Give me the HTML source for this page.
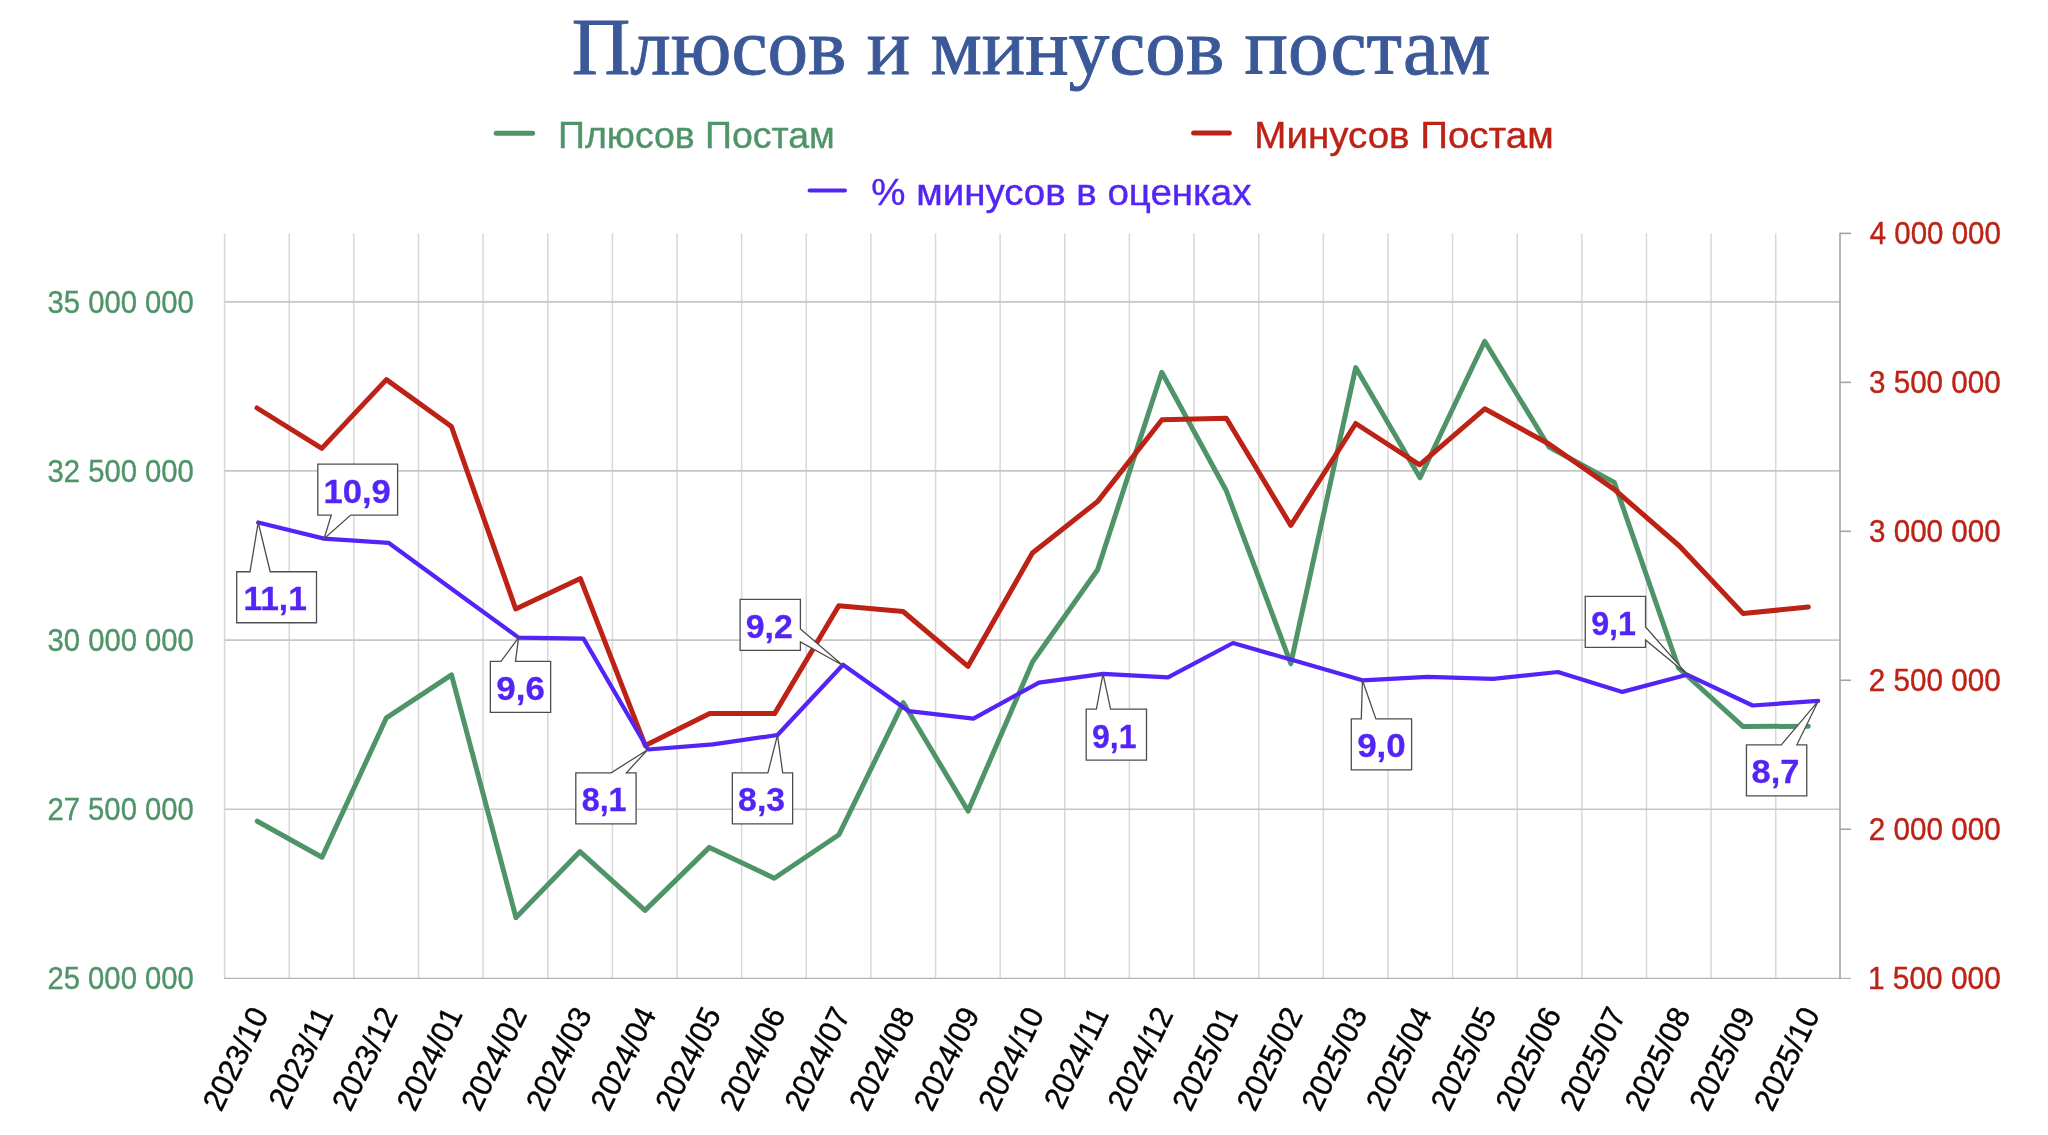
<!DOCTYPE html>
<html lang="ru"><head><meta charset="utf-8"><title>Плюсов и минусов постам</title>
<style>html,body{margin:0;padding:0;background:#fff;overflow:hidden}svg{display:block}</style></head>
<body>
<svg width="2048" height="1135" viewBox="0 0 2048 1135">
<rect width="2048" height="1135" fill="#fff"/>
<g stroke="#d8d8d8" stroke-width="1.5" fill="none">
<line x1="224.6" y1="233.4" x2="224.6" y2="978.4"/>
<line x1="289.23" y1="233.4" x2="289.23" y2="978.4"/>
<line x1="353.86" y1="233.4" x2="353.86" y2="978.4"/>
<line x1="418.49" y1="233.4" x2="418.49" y2="978.4"/>
<line x1="483.12" y1="233.4" x2="483.12" y2="978.4"/>
<line x1="547.75" y1="233.4" x2="547.75" y2="978.4"/>
<line x1="612.38" y1="233.4" x2="612.38" y2="978.4"/>
<line x1="677.01" y1="233.4" x2="677.01" y2="978.4"/>
<line x1="741.64" y1="233.4" x2="741.64" y2="978.4"/>
<line x1="806.27" y1="233.4" x2="806.27" y2="978.4"/>
<line x1="870.9" y1="233.4" x2="870.9" y2="978.4"/>
<line x1="935.53" y1="233.4" x2="935.53" y2="978.4"/>
<line x1="1000.16" y1="233.4" x2="1000.16" y2="978.4"/>
<line x1="1064.79" y1="233.4" x2="1064.79" y2="978.4"/>
<line x1="1129.42" y1="233.4" x2="1129.42" y2="978.4"/>
<line x1="1194.05" y1="233.4" x2="1194.05" y2="978.4"/>
<line x1="1258.68" y1="233.4" x2="1258.68" y2="978.4"/>
<line x1="1323.31" y1="233.4" x2="1323.31" y2="978.4"/>
<line x1="1387.94" y1="233.4" x2="1387.94" y2="978.4"/>
<line x1="1452.57" y1="233.4" x2="1452.57" y2="978.4"/>
<line x1="1517.2" y1="233.4" x2="1517.2" y2="978.4"/>
<line x1="1581.83" y1="233.4" x2="1581.83" y2="978.4"/>
<line x1="1646.46" y1="233.4" x2="1646.46" y2="978.4"/>
<line x1="1711.09" y1="233.4" x2="1711.09" y2="978.4"/>
<line x1="1775.72" y1="233.4" x2="1775.72" y2="978.4"/>
</g>
<g stroke="#c6c6c6" stroke-width="1.7" fill="none">
<line x1="224.6" y1="301.8" x2="1840" y2="301.8"/>
<line x1="224.6" y1="470.95" x2="1840" y2="470.95"/>
<line x1="224.6" y1="640.1" x2="1840" y2="640.1"/>
<line x1="224.6" y1="809.25" x2="1840" y2="809.25"/>
</g>
<line x1="224" y1="978.4" x2="1851" y2="978.4" stroke="#b4b4b4" stroke-width="1.4"/>
<g stroke="#a4a4a4" stroke-width="1.6" fill="none">
<line x1="1840" y1="232.7" x2="1840" y2="979.1"/>
<line x1="1840" y1="233.4" x2="1851" y2="233.4"/>
<line x1="1840" y1="382.36" x2="1851" y2="382.36"/>
<line x1="1840" y1="531.32" x2="1851" y2="531.32"/>
<line x1="1840" y1="680.28" x2="1851" y2="680.28"/>
<line x1="1840" y1="829.24" x2="1851" y2="829.24"/>
</g>
<polyline points="257.3,821.2 322,857.2 386.4,717.8 451.5,674.8 516,917.6 580,851.6 645,910.4 709.4,847.4 774.3,878.2 838.8,834.8 903.3,702.7 968.1,811 1032.6,661.8 1097.6,569.8 1161.8,372.3 1226.2,490.5 1290.8,663.6 1355.7,367.6 1420,477.8 1484.7,341.3 1549,447 1614.3,482.4 1678.6,668 1743.1,726.6 1808.3,726.2" fill="none" stroke="#4F9468" stroke-width="5" stroke-linejoin="round" stroke-linecap="round"/>
<polyline points="257,408 321.8,448.4 386.4,379.6 451.4,426.5 515.7,609 580.4,578.6 645.3,745.6 709.7,713.6 774.6,713.6 838.8,605.7 903.1,611.5 968,666.3 1032.4,553 1097.7,501.4 1162,419.7 1226.3,418.3 1290.8,525.4 1355.7,423.5 1419.6,464.8 1484.7,408.8 1549,444 1614.6,489.6 1679.4,546 1743.1,613.6 1808.3,607" fill="none" stroke="#BD2216" stroke-width="5" stroke-linejoin="round" stroke-linecap="round"/>
<polyline points="258.2,522.5 324,538.6 388.5,542.8 453.5,590.2 518.6,637.6 583.5,638.6 648.1,749.5 713,744.4 777.5,735 843,664.8 908.8,711.2 973.4,718.6 1039,682.6 1103,673.9 1168,677.3 1233,643 1297.7,661.6 1362.4,680.3 1427.8,676.8 1493,678.9 1557.9,672 1622.4,691.9 1687,674.7 1752.6,705.5 1818.2,700.8" fill="none" stroke="#5424F6" stroke-width="4.2" stroke-linejoin="round" stroke-linecap="round"/>
<line x1="496.2" y1="133.2" x2="532.6" y2="133.2" stroke="#4F9468" stroke-width="5" stroke-linecap="round"/>
<line x1="1193.6" y1="133.1" x2="1229.3" y2="133.1" stroke="#BD2216" stroke-width="5" stroke-linecap="round"/>
<line x1="809.7" y1="190.5" x2="844.9" y2="190.5" stroke="#5424F6" stroke-width="4.2" stroke-linecap="round"/>
<g fill="#fff" stroke="#4d4d4d" stroke-width="1.3" stroke-linejoin="miter">
<path d="M236.7,571.75 L250,571.75 L258.2,522.5 L270.2,571.75 L316.5,571.75 L316.5,622.75 L236.7,622.75 Z"/>
<path d="M317.8,464.1 L397.6,464.1 L397.6,515.1 L350.7,515.1 L324,538.7 L331.3,515.1 L317.8,515.1 Z"/>
<path d="M490.35,661.4 L501,661.4 L518.6,637.6 L515.5,661.4 L550.65,661.4 L550.65,712.4 L490.35,712.4 Z"/>
<path d="M575.8,772.8 L611.2,772.8 L647.6,749.7 L626.4,772.8 L636.1,772.8 L636.1,823.8 L575.8,823.8 Z"/>
<path d="M732.35,772.85 L767.9,772.85 L777.5,735 L782.7,772.85 L792.65,772.85 L792.65,823.85 L732.35,823.85 Z"/>
<path d="M740.1,599.4 L800.4,599.4 L800.4,628.9 L842.6,665.2 L800.4,641.9 L800.4,650.4 L740.1,650.4 Z"/>
<path d="M1086.2,709.1 L1096.4,709.1 L1103,673.9 L1110.6,709.1 L1146.5,709.1 L1146.5,760.1 L1086.2,760.1 Z"/>
<path d="M1351.3,718.9 L1361.3,718.9 L1362.4,680.3 L1375.9,718.9 L1411.6,718.9 L1411.6,769.9 L1351.3,769.9 Z"/>
<path d="M1585.25,596.45 L1645.55,596.45 L1645.55,627 L1687.3,674.6 L1645.55,640 L1645.55,647.45 L1585.25,647.45 Z"/>
<path d="M1746.45,744.8 L1781.3,744.8 L1818.2,701.2 L1796.9,744.8 L1806.75,744.8 L1806.75,795.8 L1746.45,795.8 Z"/>
</g>
<g opacity="0.999">
<text transform="translate(571.73,74) scale(1.0086,1)" font-family='"Liberation Serif", serif' font-size="80.5" font-weight="normal" fill="#3B5998" stroke="#3B5998" stroke-width="0.9">Плюсов и минусов постам</text>
<text transform="translate(558.09,148.2) scale(1.0116,1)" font-family='"Liberation Sans", sans-serif' font-size="37" font-weight="normal" fill="#4F9468" stroke="#4F9468" stroke-width="0.4">Плюсов Постам</text>
<text transform="translate(1254.33,148.2) scale(1.0409,1)" font-family='"Liberation Sans", sans-serif' font-size="37" font-weight="normal" fill="#BD2216" stroke="#BD2216" stroke-width="0.4">Минусов Постам</text>
<text transform="translate(871.33,205) scale(1.0397,1)" font-family='"Liberation Sans", sans-serif' font-size="37" font-weight="normal" fill="#5424F6" stroke="#5424F6" stroke-width="0.4">% минусов в оценках</text>
<text transform="translate(47.57,312.5) scale(0.9309,1)" font-family='"Liberation Sans", sans-serif' font-size="31.4" font-weight="normal" fill="#4F9468" stroke="#4F9468" stroke-width="0.4">35 000 000</text>
<text transform="translate(47.57,481.65) scale(0.9309,1)" font-family='"Liberation Sans", sans-serif' font-size="31.4" font-weight="normal" fill="#4F9468" stroke="#4F9468" stroke-width="0.4">32 500 000</text>
<text transform="translate(47.57,650.8) scale(0.9309,1)" font-family='"Liberation Sans", sans-serif' font-size="31.4" font-weight="normal" fill="#4F9468" stroke="#4F9468" stroke-width="0.4">30 000 000</text>
<text transform="translate(47.48,819.95) scale(0.9314,1)" font-family='"Liberation Sans", sans-serif' font-size="31.4" font-weight="normal" fill="#4F9468" stroke="#4F9468" stroke-width="0.4">27 500 000</text>
<text transform="translate(47.48,989.1) scale(0.9314,1)" font-family='"Liberation Sans", sans-serif' font-size="31.4" font-weight="normal" fill="#4F9468" stroke="#4F9468" stroke-width="0.4">25 000 000</text>
<text transform="translate(1869.76,244.1) scale(0.9380,1)" font-family='"Liberation Sans", sans-serif' font-size="31.4" font-weight="normal" fill="#BD2216" stroke="#BD2216" stroke-width="0.4">4 000 000</text>
<text transform="translate(1868.95,393.06) scale(0.9439,1)" font-family='"Liberation Sans", sans-serif' font-size="31.4" font-weight="normal" fill="#BD2216" stroke="#BD2216" stroke-width="0.4">3 500 000</text>
<text transform="translate(1868.95,542.02) scale(0.9439,1)" font-family='"Liberation Sans", sans-serif' font-size="31.4" font-weight="normal" fill="#BD2216" stroke="#BD2216" stroke-width="0.4">3 000 000</text>
<text transform="translate(1868.87,690.98) scale(0.9444,1)" font-family='"Liberation Sans", sans-serif' font-size="31.4" font-weight="normal" fill="#BD2216" stroke="#BD2216" stroke-width="0.4">2 500 000</text>
<text transform="translate(1868.87,839.94) scale(0.9444,1)" font-family='"Liberation Sans", sans-serif' font-size="31.4" font-weight="normal" fill="#BD2216" stroke="#BD2216" stroke-width="0.4">2 000 000</text>
<text transform="translate(1867.97,988.9) scale(0.9509,1)" font-family='"Liberation Sans", sans-serif' font-size="31.4" font-weight="normal" fill="#BD2216" stroke="#BD2216" stroke-width="0.4">1 500 000</text>
<text transform="translate(243.43,610.33) scale(1.0004,1)" font-family='"Liberation Sans", sans-serif' font-size="33.5" font-weight="bold" fill="#5424F6" stroke="#5424F6" stroke-width="0.3">11,1</text>
<text transform="translate(323.57,502.5) scale(1.0310,1)" font-family='"Liberation Sans", sans-serif' font-size="33.5" font-weight="bold" fill="#5424F6" stroke="#5424F6" stroke-width="0.3">10,9</text>
<text transform="translate(496.36,699.6) scale(1.0401,1)" font-family='"Liberation Sans", sans-serif' font-size="33.5" font-weight="bold" fill="#5424F6" stroke="#5424F6" stroke-width="0.3">9,6</text>
<text transform="translate(581.66,811.3) scale(0.9655,1)" font-family='"Liberation Sans", sans-serif' font-size="33.5" font-weight="bold" fill="#5424F6" stroke="#5424F6" stroke-width="0.3">8,1</text>
<text transform="translate(738.12,810.67) scale(1.0084,1)" font-family='"Liberation Sans", sans-serif' font-size="33.5" font-weight="bold" fill="#5424F6" stroke="#5424F6" stroke-width="0.3">8,3</text>
<text transform="translate(745.7,638.1) scale(1.0093,1)" font-family='"Liberation Sans", sans-serif' font-size="33.5" font-weight="bold" fill="#5424F6" stroke="#5424F6" stroke-width="0.3">9,2</text>
<text transform="translate(1091.96,747.9) scale(0.9548,1)" font-family='"Liberation Sans", sans-serif' font-size="33.5" font-weight="bold" fill="#5424F6" stroke="#5424F6" stroke-width="0.3">9,1</text>
<text transform="translate(1357.16,757.4) scale(1.0416,1)" font-family='"Liberation Sans", sans-serif' font-size="33.5" font-weight="bold" fill="#5424F6" stroke="#5424F6" stroke-width="0.3">9,0</text>
<text transform="translate(1591.15,634.92) scale(0.9615,1)" font-family='"Liberation Sans", sans-serif' font-size="33.5" font-weight="bold" fill="#5424F6" stroke="#5424F6" stroke-width="0.3">9,1</text>
<text transform="translate(1751.5,783) scale(1.0277,1)" font-family='"Liberation Sans", sans-serif' font-size="33.5" font-weight="bold" fill="#5424F6" stroke="#5424F6" stroke-width="0.3">8,7</text>
<g font-family='"Liberation Sans", sans-serif' font-size="31.2" fill="#000" stroke="#000" stroke-width="0.4" text-anchor="end">
<text transform="translate(269.21,1014) rotate(-64) scale(0.975,1)">2023/10</text>
<text transform="translate(333.84,1014) rotate(-64) scale(0.975,1)">2023/11</text>
<text transform="translate(398.47,1014) rotate(-64) scale(0.975,1)">2023/12</text>
<text transform="translate(463.1,1014) rotate(-64) scale(0.975,1)">2024/01</text>
<text transform="translate(527.73,1014) rotate(-64) scale(0.975,1)">2024/02</text>
<text transform="translate(592.36,1014) rotate(-64) scale(0.975,1)">2024/03</text>
<text transform="translate(656.99,1014) rotate(-64) scale(0.975,1)">2024/04</text>
<text transform="translate(721.62,1014) rotate(-64) scale(0.975,1)">2024/05</text>
<text transform="translate(786.25,1014) rotate(-64) scale(0.975,1)">2024/06</text>
<text transform="translate(850.88,1014) rotate(-64) scale(0.975,1)">2024/07</text>
<text transform="translate(915.51,1014) rotate(-64) scale(0.975,1)">2024/08</text>
<text transform="translate(980.14,1014) rotate(-64) scale(0.975,1)">2024/09</text>
<text transform="translate(1044.77,1014) rotate(-64) scale(0.975,1)">2024/10</text>
<text transform="translate(1109.4,1014) rotate(-64) scale(0.975,1)">2024/11</text>
<text transform="translate(1174.03,1014) rotate(-64) scale(0.975,1)">2024/12</text>
<text transform="translate(1238.66,1014) rotate(-64) scale(0.975,1)">2025/01</text>
<text transform="translate(1303.29,1014) rotate(-64) scale(0.975,1)">2025/02</text>
<text transform="translate(1367.92,1014) rotate(-64) scale(0.975,1)">2025/03</text>
<text transform="translate(1432.55,1014) rotate(-64) scale(0.975,1)">2025/04</text>
<text transform="translate(1497.18,1014) rotate(-64) scale(0.975,1)">2025/05</text>
<text transform="translate(1561.81,1014) rotate(-64) scale(0.975,1)">2025/06</text>
<text transform="translate(1626.44,1014) rotate(-64) scale(0.975,1)">2025/07</text>
<text transform="translate(1691.07,1014) rotate(-64) scale(0.975,1)">2025/08</text>
<text transform="translate(1755.7,1014) rotate(-64) scale(0.975,1)">2025/09</text>
<text transform="translate(1820.33,1014) rotate(-64) scale(0.975,1)">2025/10</text>
</g>
</g>
</svg>
</body></html>
